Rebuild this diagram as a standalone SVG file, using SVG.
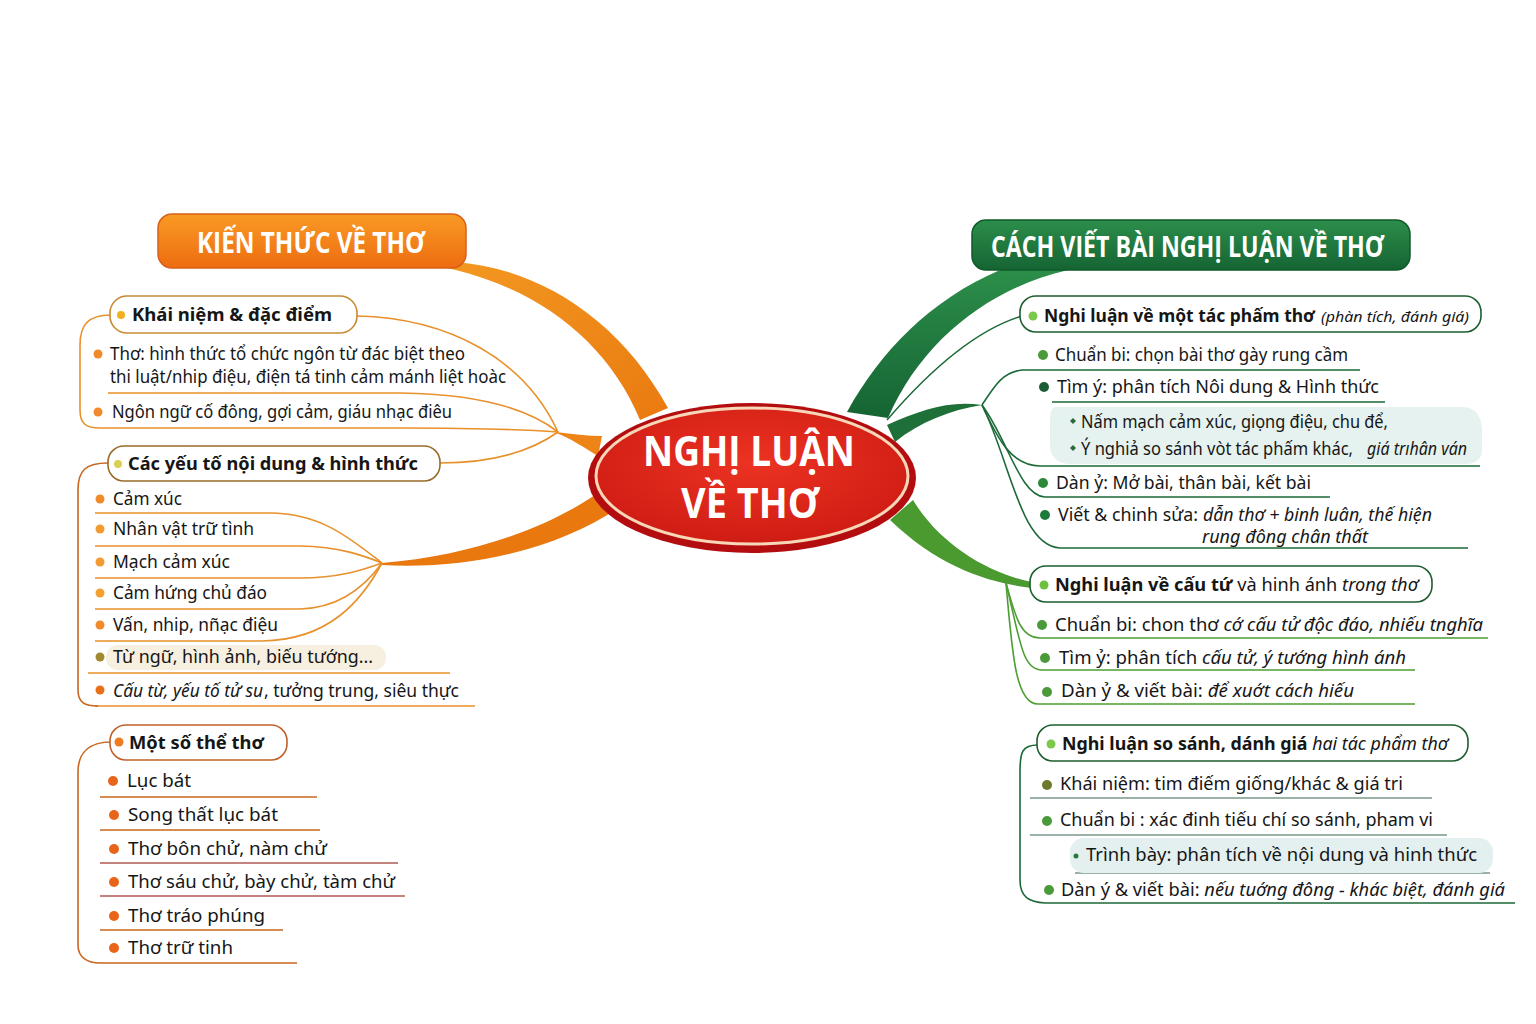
<svg xmlns="http://www.w3.org/2000/svg" width="1536" height="1024" viewBox="0 0 1536 1024">
<defs>
<linearGradient id="gOr" x1="0" y1="0" x2="0" y2="1"><stop offset="0" stop-color="#f99a25"/><stop offset="1" stop-color="#ee6c10"/></linearGradient>
<linearGradient id="gGr" x1="0" y1="0" x2="0" y2="1"><stop offset="0" stop-color="#2c8e4a"/><stop offset="1" stop-color="#156433"/></linearGradient>
<radialGradient id="gRed" cx="0.5" cy="0.4" r="0.6"><stop offset="0" stop-color="#ec3322"/><stop offset="1" stop-color="#cf1c14"/></radialGradient>
<linearGradient id="gBand" x1="0" y1="0" x2="1" y2="1"><stop offset="0" stop-color="#f39a22"/><stop offset="1" stop-color="#ea7a10"/></linearGradient>
<style>
.t{font-family:"Noto Sans","Open Sans","DejaVu Sans",sans-serif;font-size:18px;fill:#161616}
.b{font-weight:bold}
.i{font-style:italic}
.s{font-size:15px}
.ttl{font-family:"Open Sans","Noto Sans",sans-serif;font-weight:bold;fill:#ffffff}
.ol{fill:none;stroke:#e8902a;stroke-width:1.6}
.olb{fill:none;stroke:#c9661f;stroke-width:1.6}
.om{fill:none;stroke:#b25a55;stroke-width:1.4}
.gl{fill:none;stroke:#1d6a38;stroke-width:1.6}
.gl2{fill:none;stroke:#4c9e32;stroke-width:1.6}
.gu{fill:none;stroke:#7a9a8a;stroke-width:1.4}
.boxo{fill:#ffffff;stroke:#c98a35;stroke-width:1.6}
.boxg{fill:#ffffff;stroke:#1d5e2e;stroke-width:1.6}
</style>
</defs>
<rect width="1536" height="1024" fill="#ffffff"/>

<g id="connectors">
  <path d="M 420 263 C 525 278, 605 335, 640 420 L 668 408 C 620 320, 540 268, 455 262 Z" fill="url(#gBand)"/>
  <path d="M 556 432 C 572 434, 588 436, 602 436 L 598 456 C 585 448, 570 438, 556 433 Z" fill="#ee8418"/>
  <path d="M 382 565 C 470 570, 560 548, 618 508 L 602 490 C 550 528, 470 556, 382 563 Z" fill="#e9780f"/>
  <path class="ol" d="M 357 316 C 450 318, 525 360, 558 432"/>
  <path class="ol" d="M 108 393 L 400 393 C 480 394, 530 410, 558 432"/>
  <path class="ol" d="M 100 428 L 400 428 C 470 428, 530 430, 558 432"/>
  <path class="ol" d="M 111 315 C 88 315, 80 325, 80 345 L 80 410 C 80 424, 86 428, 100 428"/>
  <path class="ol" d="M 440 463 C 490 463, 530 452, 558 432"/>
  <path class="ol" d="M 95 513 L 270 513 C 320 513, 350 538, 382 563"/>
  <path class="ol" d="M 95 546 L 300 546 C 340 547, 362 555, 382 563"/>
  <path class="ol" d="M 95 578 L 300 578 C 340 578, 362 570, 382 563"/>
  <path class="ol" d="M 95 609 L 300 609 C 340 608, 366 585, 382 563"/>
  <path class="ol" d="M 95 641 L 262 641 C 330 640, 362 600, 382 563"/>
  <path class="ol" d="M 88 673 L 450 673"/>
  <path class="ol" d="M 95 706 L 475 706"/>
  <path class="olb" d="M 108 463 C 86 463, 78 470, 78 490 L 78 690 C 78 703, 85 706, 98 706"/>
  <path class="olb" d="M 111 742 C 90 742, 78 752, 78 772 L 78 945 C 78 958, 88 963, 100 963 L 297 963"/>
  <path class="olb" d="M 100 797 L 317 797"/>
  <path class="olb" d="M 100 830 L 320 830"/>
  <path class="om" d="M 100 863 L 398 863"/>
  <path class="om" d="M 100 896 L 405 896"/>
  <path class="olb" d="M 100 930 L 283 930"/>

  <path d="M 847 412 C 880 352, 930 300, 1000 270 L 1068 270 C 990 288, 922 340, 888 418 Z" fill="url(#gGr)"/>
  <path d="M 887 425 C 920 410, 950 400, 982 405 C 950 410, 920 422, 895 442 Z" fill="#1f7038"/>
  <path d="M 890 520 C 940 568, 990 583, 1032 588 L 1032 582 C 990 574, 940 545, 913 500 Z" fill="#4a9a30"/>
  <path class="gl" d="M 887 420 C 930 370, 975 330, 1022 316"/>
  <path class="gl" d="M 982 405 C 995 385, 1003 372, 1022 370 L 1360 370"/>
  <path class="gl" d="M 1052 402 L 1385 402"/>
  <path class="gl" d="M 982 405 C 998 440, 1012 466, 1040 466 L 1480 466"/>
  <path class="gl" d="M 982 405 C 1008 440, 1020 496, 1045 497 L 1330 497"/>
  <path class="gl" d="M 982 405 C 1010 460, 1020 546, 1060 548 L 1468 548"/>
  <path class="gl2" d="M 1006 583 C 1015 615, 1020 638, 1040 638 L 1488 638"/>
  <path class="gl2" d="M 1006 583 C 1020 640, 1022 670, 1042 670 L 1415 670"/>
  <path class="gl2" d="M 1006 583 C 1012 650, 1015 704, 1038 704 L 1415 704"/>
  <path class="gl" d="M 1038 745 C 1022 745, 1020 752, 1020 772 L 1020 880 C 1020 898, 1030 902, 1045 903 L 1515 903"/>
  <path class="gu" d="M 1030 798 L 1432 798"/>
  <path class="gu" d="M 1030 835 L 1447 835"/>
  <path class="gu" d="M 1075 873 L 1490 873"/>
</g>

<g id="center">
  <ellipse cx="752" cy="478" rx="164" ry="75" fill="#b30d10"/>
  <ellipse cx="752" cy="476" rx="156" ry="68" fill="url(#gRed)" stroke="#f7d7b8" stroke-width="3"/>
  <text class="ttl" x="749" y="466" font-size="42" text-anchor="middle" textLength="212" lengthAdjust="spacingAndGlyphs">NGHỊ LUẬN</text>
  <text class="ttl" x="750" y="518" font-size="42" text-anchor="middle" textLength="138" lengthAdjust="spacingAndGlyphs">VỀ THƠ</text>
</g>

<g id="title-left">
  <rect x="158" y="214" width="308" height="54" rx="14" fill="url(#gOr)" stroke="#d8601a" stroke-width="1.5"/>
  <text class="ttl" x="197" y="253" font-size="29" textLength="228" lengthAdjust="spacingAndGlyphs">KIẾN THỨC VỀ THƠ</text>
</g>

<g id="title-right">
  <rect x="972" y="220" width="438" height="50" rx="14" fill="url(#gGr)" stroke="#0f5a2a" stroke-width="1.5"/>
  <text class="ttl" x="991" y="257" font-size="28" textLength="393" lengthAdjust="spacingAndGlyphs">CÁCH VIẾT BÀI NGHỊ LUẬN VỀ THƠ</text>
</g>

<g id="khai-niem">
  <rect class="boxo" x="110" y="296" width="247" height="37" rx="17"/>
  <circle cx="121" cy="315" r="4" fill="#f0b020"/>
  <text class="t b" x="132" y="321" font-size="20" textLength="200" lengthAdjust="spacingAndGlyphs">Khái niệm &amp; đặc điểm</text>
  <circle cx="98" cy="354" r="4.5" fill="#f08a2a"/>
  <text class="t" x="110" y="360" textLength="355" lengthAdjust="spacingAndGlyphs">Thơ: hình thức tổ chức ngôn từ đác biệt theo</text>
  <text class="t" x="110" y="383" textLength="396" lengthAdjust="spacingAndGlyphs">thi luật/nhip điệu, điện tá tinh cảm mánh liệt hoàc</text>
  <circle cx="98" cy="412" r="4.5" fill="#f08a2a"/>
  <text class="t" x="112" y="418" textLength="340" lengthAdjust="spacingAndGlyphs">Ngôn ngữ cố đông, gợi cảm, giáu nhạc điêu</text>
</g>

<g id="cac-yeu-to">
  <rect class="boxo" x="108" y="446" width="332" height="35" rx="16" style="stroke:#9a6a2a"/>
  <circle cx="118" cy="464" r="4" fill="#d8d050"/>
  <text class="t b" x="128" y="470" font-size="21" textLength="290" lengthAdjust="spacingAndGlyphs">Các yếu tố nội dung &amp; hình thức</text>
  <circle cx="100" cy="499" r="4.5" fill="#f08a2a"/>
  <text class="t" x="113" y="505" textLength="69" lengthAdjust="spacingAndGlyphs">Cảm xúc</text>
  <circle cx="100" cy="529" r="4.5" fill="#f39a30"/>
  <text class="t" x="113" y="535" textLength="141" lengthAdjust="spacingAndGlyphs">Nhân vật trữ tình</text>
  <circle cx="100" cy="562" r="4.5" fill="#f39a30"/>
  <text class="t" x="113" y="568" textLength="117" lengthAdjust="spacingAndGlyphs">Mạch cảm xúc</text>
  <circle cx="100" cy="593" r="4.5" fill="#f3a030"/>
  <text class="t" x="113" y="599" textLength="154" lengthAdjust="spacingAndGlyphs">Cảm hứng chủ đáo</text>
  <circle cx="100" cy="625" r="4.5" fill="#f08a2a"/>
  <text class="t" x="113" y="631" textLength="165" lengthAdjust="spacingAndGlyphs">Vấn, nhip, nñạc điệu</text>
  <rect x="106" y="645" width="280" height="25" rx="12" fill="#f7efe0"/>
  <circle cx="100" cy="657" r="4.5" fill="#a08a30"/>
  <text class="t" x="113" y="663" textLength="260" lengthAdjust="spacingAndGlyphs">Từ ngữ, hình ảnh, biếu tướng...</text>
  <circle cx="100" cy="690" r="4.5" fill="#e8701a"/>
  <text class="t i" x="113" y="697" textLength="150" lengthAdjust="spacingAndGlyphs">Cấu từ, yếu tố tử su</text>
  <text class="t" x="264" y="697" textLength="195" lengthAdjust="spacingAndGlyphs">, tưởng trung, siêu thực</text>
</g>

<g id="the-tho">
  <rect class="boxo" x="110" y="725" width="177" height="35" rx="16" style="stroke:#c0602a"/>
  <circle cx="119" cy="742" r="4.5" fill="#ef7a20"/>
  <text class="t b" x="129" y="749" font-size="20" textLength="135" lengthAdjust="spacingAndGlyphs">Một số thể thơ</text>
  <circle cx="113" cy="781" r="5" fill="#e8641a"/>
  <text class="t" x="127" y="787" font-size="19" textLength="64" lengthAdjust="spacingAndGlyphs">Lục bát</text>
  <circle cx="114" cy="815" r="5" fill="#e8641a"/>
  <text class="t" x="128" y="821" font-size="19" textLength="150" lengthAdjust="spacingAndGlyphs">Song thất lục bát</text>
  <circle cx="114" cy="849" r="5" fill="#e8641a"/>
  <text class="t" x="128" y="855" font-size="19" textLength="199" lengthAdjust="spacingAndGlyphs">Thơ bôn chử, nàm chử</text>
  <circle cx="114" cy="882" r="5" fill="#e8641a"/>
  <text class="t" x="128" y="888" font-size="19" textLength="267" lengthAdjust="spacingAndGlyphs">Thơ sáu chử, bày chử, tàm chử</text>
  <circle cx="114" cy="916" r="5" fill="#e8641a"/>
  <text class="t" x="128" y="922" font-size="19" textLength="137" lengthAdjust="spacingAndGlyphs">Thơ tráo phúng</text>
  <circle cx="114" cy="948" r="5" fill="#e8641a"/>
  <text class="t" x="128" y="954" font-size="19" textLength="105" lengthAdjust="spacingAndGlyphs">Thơ trữ tinh</text>
</g>

<g id="mot-tac-pham">
  <rect class="boxg" x="1020" y="296" width="461" height="36" rx="16"/>
  <circle cx="1033" cy="316" r="4.5" fill="#7cc84a"/>
  <text class="t b" x="1044" y="322" font-size="20" textLength="271" lengthAdjust="spacingAndGlyphs">Nghi luận về một tác phấm thơ</text>
  <text class="t i s" x="1321" y="322" textLength="148" lengthAdjust="spacingAndGlyphs">(phàn  tích, đánh giá)</text>
  <circle cx="1043" cy="355" r="5" fill="#4a9a3a"/>
  <text class="t" x="1055" y="361" textLength="293" lengthAdjust="spacingAndGlyphs">Chuẩn bi: chọn bài thơ gày rung cầm</text>
  <circle cx="1044" cy="387" r="5" fill="#1b5e36"/>
  <text class="t" x="1057" y="393" textLength="322" lengthAdjust="spacingAndGlyphs">Tìm ý: phân tích Nôi dung &amp; Hình thức</text>
  <path d="M 1056 407 L 1462 407 C 1478 407, 1482 420, 1482 432 L 1482 450 C 1482 458, 1476 464, 1466 464 L 1070 464 C 1058 464, 1050 456, 1050 446 L 1050 420 C 1050 412, 1052 407, 1056 407 Z" fill="#e5f2ef"/>
  <path d="M 1073 418 l 3 3 l -3 3 l -3 -3 Z" fill="#2a6a3a"/>
  <text class="t" x="1081" y="428" textLength="307" lengthAdjust="spacingAndGlyphs">Nấm mạch cảm xúc, giọng điệu, chu để,</text>
  <path d="M 1073 445 l 3 3 l -3 3 l -3 -3 Z" fill="#2a6a3a"/>
  <text class="t" x="1081" y="455" textLength="272" lengthAdjust="spacingAndGlyphs">Ý nghiả so sánh vòt tác phấm khác,</text>
  <text class="t i" x="1367" y="455" textLength="100" lengthAdjust="spacingAndGlyphs">giá trıhân ván</text>
  <circle cx="1043" cy="483" r="5" fill="#2a8a3a"/>
  <text class="t" x="1056" y="489" textLength="255" lengthAdjust="spacingAndGlyphs">Dàn ỷ: Mở bài, thân bài, kết bài</text>
  <circle cx="1045" cy="515" r="5" fill="#1d7a3a"/>
  <text class="t" x="1058" y="521" textLength="140" lengthAdjust="spacingAndGlyphs">Viết &amp; chinh sửa:</text>
  <text class="t i" x="1203" y="521" textLength="229" lengthAdjust="spacingAndGlyphs">dẫn thơ + binh luân, thế hiện</text>
  <text class="t i" x="1202" y="543" textLength="166" lengthAdjust="spacingAndGlyphs">rung đông chân thất</text>
</g>

<g id="cau-tu">
  <rect class="boxg" x="1030" y="566" width="402" height="36" rx="16"/>
  <circle cx="1044" cy="585" r="4.5" fill="#6cc040"/>
  <text class="t" x="1055" y="591" font-size="19" textLength="363" lengthAdjust="spacingAndGlyphs"><tspan class="b">Nghi luận về cấu tứ</tspan> và hinh ánh <tspan class="i">trong thơ</tspan></text>
  <circle cx="1042" cy="625" r="5" fill="#4a9a3a"/>
  <text class="t" x="1055" y="631" textLength="428" lengthAdjust="spacingAndGlyphs">Chuẩn bi: chon thơ <tspan class="i">cớ cấu tử độc đáo, nhiếu tnghĩa</tspan></text>
  <circle cx="1045" cy="658" r="5" fill="#4a9a3a"/>
  <text class="t" x="1059" y="664" textLength="347" lengthAdjust="spacingAndGlyphs">Tìm ỷ: phân tích <tspan class="i">cấu tử, ý tướng hình ánh</tspan></text>
  <circle cx="1047" cy="692" r="5" fill="#4a9a3a"/>
  <text class="t" x="1061" y="697" textLength="293" lengthAdjust="spacingAndGlyphs">Dàn ỷ &amp; viết bài: <tspan class="i">để xuớt cách hiếu</tspan></text>
</g>

<g id="so-sanh">
  <rect class="boxg" x="1037" y="725" width="431" height="36" rx="16"/>
  <circle cx="1051" cy="744" r="4.5" fill="#7cc84a"/>
  <text class="t" x="1062" y="750" font-size="19" textLength="386" lengthAdjust="spacingAndGlyphs"><tspan class="b">Nghi luận so sánh, dánh giá</tspan> <tspan class="i">hai tác phẩm thơ</tspan></text>
  <circle cx="1047" cy="785" r="5" fill="#6a7a2a"/>
  <text class="t" x="1060" y="790" textLength="343" lengthAdjust="spacingAndGlyphs">Khái niệm: tim điếm giống/khác &amp; giá tri</text>
  <circle cx="1047" cy="821" r="5" fill="#4a9a3a"/>
  <text class="t" x="1060" y="826" textLength="373" lengthAdjust="spacingAndGlyphs">Chuẩn bi : xác đinh tiếu chí so sánh, pham vi</text>
  <rect x="1070" y="838" width="423" height="35" rx="14" fill="#e4f0ef"/>
  <circle cx="1076" cy="856" r="2.5" fill="#2a7a3a"/>
  <text class="t" x="1086" y="861" textLength="391" lengthAdjust="spacingAndGlyphs">Trình bày: phân tích về nội dung và hinh thức</text>
  <circle cx="1049" cy="890" r="5" fill="#4a9a3a"/>
  <text class="t" x="1061" y="896" textLength="444" lengthAdjust="spacingAndGlyphs">Dàn ý &amp; viết bài: <tspan class="i">nếu tuớng đông - khác biệt, đánh giá</tspan></text>
</g>
</svg>
